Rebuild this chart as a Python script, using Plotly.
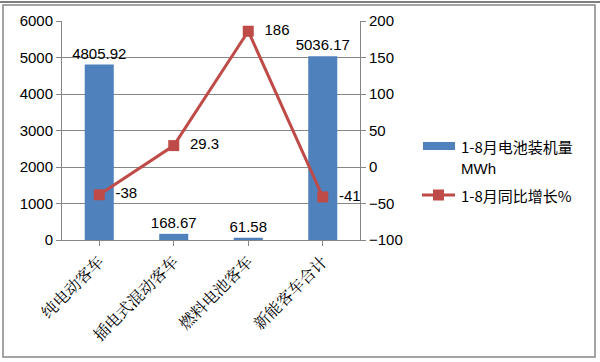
import plotly.graph_objects as go

categories = ["纯电动客车", "插电式混动客车", "燃料电池客车", "新能客车合计"]
capacity_mwh = [4805.92, 168.67, 61.58, 5036.17]
growth_pct = [-38, 29.3, 186, -41]
capacity_labels = ["4805.92", "168.67", "61.58", "5036.17"]
growth_labels = ["-38", "29.3", "186", "-41"]
legend_names = ["1-8月电池装机量", "MWh", "1-8月同比增长%"]

num_font = "Liberation Sans, Noto Sans, sans-serif"
cjk_font = "Noto Sans CJK SC, sans-serif"

L, R, T, B = 62, 360, 21, 240
W, H = R - L, B - T


def px(x):
    return (x - L) / W


def py(y):
    return (B - y) / H


fig = go.Figure()
fig.add_trace(go.Bar(
    x=categories, y=capacity_mwh, name=legend_names[0],
    marker=dict(color="#4F81BD", line=dict(width=0)),
    width=0.39,
    text=capacity_labels, textposition="outside", cliponaxis=False,
    constraintext="none",
    textfont=dict(family=num_font, size=15, color="#000"),
))
fig.add_trace(go.Scatter(
    x=categories, y=growth_pct, name=legend_names[2], yaxis="y2",
    mode="lines+markers+text",
    line=dict(color="#BE4B48", width=3),
    marker=dict(symbol="square", size=11, color="#BE4B48"),
    text=["  " + t for t in growth_labels], textposition="middle right", cliponaxis=False,
    textfont=dict(family=num_font, size=15, color="#000"),
))

shapes = [
    dict(type="rect", xref="paper", yref="paper",
         x0=px(3), x1=px(595), y0=py(357), y1=py(5),
         line=dict(color="#868686", width=1.5)),
    dict(type="line", xref="paper", yref="paper",
         x0=px(0), x1=px(600), y0=py(2), y1=py(2),
         line=dict(color="#000", width=1)),
    # legend keys
    dict(type="rect", xref="paper", yref="paper",
         x0=px(423), x1=px(455), y0=py(150), y1=py(142),
         fillcolor="#4F81BD", line=dict(width=0)),
    dict(type="line", xref="paper", yref="paper",
         x0=px(422), x1=px(455), y0=py(195), y1=py(195),
         line=dict(color="#BE4B48", width=3)),
    dict(type="rect", xref="paper", yref="paper",
         x0=px(433), x1=px(444), y0=py(200.5), y1=py(189.5),
         fillcolor="#BE4B48", line=dict(width=0)),
]

annotations = [
    dict(xref="paper", yref="paper", x=px(459), y=py(146), xanchor="left", yanchor="middle",
         text=legend_names[0], showarrow=False, font=dict(family=cjk_font, size=15, color="#000")),
    dict(xref="paper", yref="paper", x=px(459), y=py(168), xanchor="left", yanchor="middle",
         text=legend_names[1], showarrow=False, font=dict(family=num_font, size=15, color="#000")),
    dict(xref="paper", yref="paper", x=px(459), y=py(195), xanchor="left", yanchor="middle",
         text=legend_names[2], showarrow=False, font=dict(family=cjk_font, size=15, color="#000")),
]

fig.update_layout(
    width=600, height=362,
    margin=dict(l=L, r=600 - R, t=T, b=362 - B, autoexpand=False),
    paper_bgcolor="white", plot_bgcolor="white",
    showlegend=False,
    bargap=0.61,
    xaxis=dict(
        tickangle=-45, tickfont=dict(family="Noto Serif CJK SC, " + cjk_font, size=16, color="#000"),
        showline=True, linecolor="#868686", linewidth=1,
        ticks="outside", ticklen=5, tickcolor="#868686",
        showgrid=False, automargin=False,
    ),
    yaxis=dict(
        range=[0, 6000], dtick=1000,
        tickfont=dict(family=num_font, size=15, color="#000"),
        showgrid=True, gridcolor="#868686", gridwidth=1,
        showline=True, linecolor="#868686", linewidth=1,
        ticks="outside", ticklen=5, tickcolor="#868686",
        zeroline=False, automargin=False,
    ),
    yaxis2=dict(
        range=[-100, 200], dtick=50, overlaying="y", side="right",
        tickfont=dict(family=num_font, size=15, color="#000"),
        showgrid=False,
        showline=True, linecolor="#868686", linewidth=1,
        ticks="outside", ticklen=5, tickcolor="#868686",
        zeroline=False, automargin=False,
    ),
    shapes=shapes,
    annotations=annotations,
)

fig.write_html("out.html", post_script="document.body.style.margin='0';",
               config={"displayModeBar": False})
